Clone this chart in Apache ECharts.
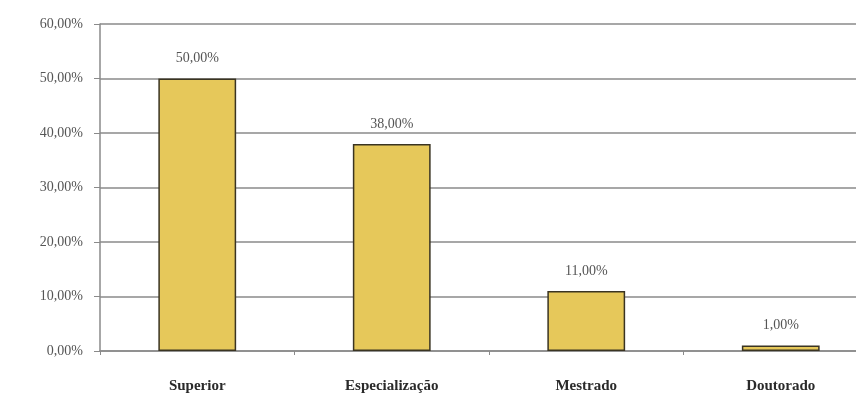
<!DOCTYPE html>
<html>
<head>
<meta charset="utf-8">
<script src="https://cdn.jsdelivr.net/npm/echarts@6/dist/echarts.min.js"></script>
<style>
  html, body { margin: 0; padding: 0; background: #fff; }
  #chart { width: 856px; height: 398px; }
</style>
</head>
<body>
<div id="chart"></div>
<script>
const categories = ['Superior', 'Especialização', 'Mestrado', 'Doutorado']
const values = [50, 38, 11, 1]

const fmt = v => v.toFixed(2).replace('.', ',') + '%'

const chart = echarts.init(document.getElementById('chart'))

chart.setOption({
  animation: false,
  grid: {
    left: 100,
    top: 24,
    width: 778,
    height: 327,
    outerBoundsMode: 'none',
    containLabel: false
  },
  xAxis: {
    type: 'category',
    data: categories,
    axisLine: { lineStyle: { color: '#8a8a8a', width: 1.5 } },
    axisTick: { show: true, length: 4, lineStyle: { color: '#8a8a8a' } },
    axisLabel: {
      margin: 28,
      fontFamily: 'Liberation Serif',
      fontSize: 15,
      fontWeight: 'bold',
      color: '#2a2a2a'
    }
  },
  yAxis: {
    type: 'value',
    min: 0,
    max: 60,
    interval: 10,
    axisLine: { show: true, lineStyle: { color: '#8a8a8a', width: 1.5 } },
    axisTick: { show: true, length: 6, lineStyle: { color: '#8a8a8a' } },
    axisLabel: {
      margin: 17,
      fontFamily: 'Liberation Serif',
      fontSize: 14,
      color: '#555',
      formatter: v => fmt(v)
    },
    splitLine: { lineStyle: { color: '#8a8a8a', width: 1.5 } }
  },
  series: [
    {
      type: 'bar',
      data: values,
      barWidth: '40%',
      itemStyle: {
        color: '#e6c85a',
        borderColor: '#3a3422',
        borderWidth: 1.5
      },
      label: {
        show: true,
        position: 'top',
        distance: 13,
        fontFamily: 'Liberation Serif',
        fontSize: 14,
        color: '#555',
        formatter: p => fmt(p.value)
      }
    }
  ]
})
</script>
</body>
</html>
